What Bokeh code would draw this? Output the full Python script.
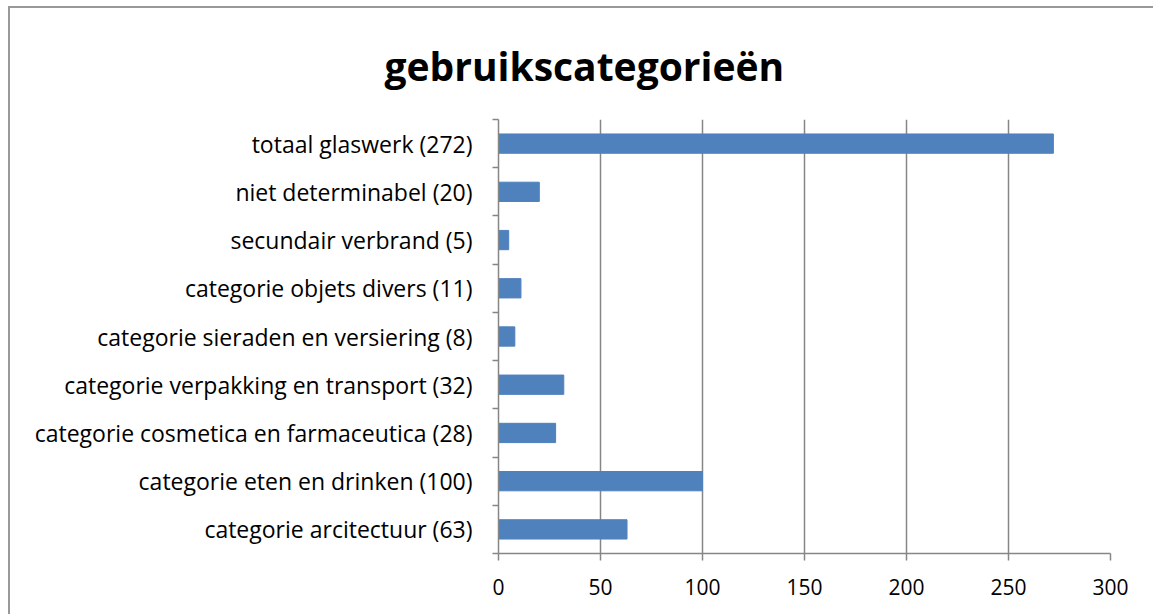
from bokeh.plotting import figure
from bokeh.models import FixedTicker, Range1d
from bokeh.embed import file_html
from bokeh.resources import INLINE

title_text = "gebruikscategorieën"
categories = [
    "categorie arcitectuur (63)",
    "categorie eten en drinken (100)",
    "categorie cosmetica en farmaceutica (28)",
    "categorie verpakking en transport (32)",
    "categorie sieraden en versiering (8)",
    "categorie objets divers (11)",
    "secundair verbrand (5)",
    "niet determinabel (20)",
    "totaal glaswerk (272)",
]
values = [63, 100, 28, 32, 8, 11, 5, 20, 272]
x_ticks = [0, 50, 100, 150, 200, 250, 300]

FONT = "Open Sans"
GREY = "#868686"
BLUE = "#4F81BD"

n = len(categories)
centers = [i + 0.5 for i in range(n)]
bounds = list(range(n + 1))

p = figure(width=1145, height=608, output_backend="svg", toolbar_location=None,
           x_range=Range1d(0, 300), y_range=Range1d(0, n),
           min_border_left=488, min_border_right=45, min_border_top=109, min_border_bottom=63,
           title=title_text)
p.styles = {"border-left": "2px solid #999", "border-top": "2px solid #999",
            "margin-left": "8px", "margin-top": "6px"}

p.hbar(y=centers, right=values, left=0, height=0.4, color=BLUE, line_color=BLUE)

p.title.align = "left"
p.title.offset = -114
p.title.standoff = 56
p.title.text_font = FONT
p.title.text_font_size = "39px"
p.title.text_font_style = "bold"
p.title.text_color = "black"

p.outline_line_color = None
p.background_fill_color = "white"
p.border_fill_color = "white"

# grid
p.xgrid.ticker = FixedTicker(ticks=x_ticks)
p.xgrid.grid_line_color = GREY
p.xgrid.grid_line_width = 1.5
p.ygrid.grid_line_color = None

# x axis
xa = p.xaxis[0]
xa.ticker = FixedTicker(ticks=x_ticks)
xa.axis_line_color = GREY
xa.axis_line_width = 1.5
xa.major_tick_line_color = GREY
xa.major_tick_line_width = 1.5
xa.major_tick_out = 7
xa.major_tick_in = 0
xa.minor_tick_line_color = None
xa.major_label_text_font = FONT
xa.major_label_text_font_size = "21px"
xa.major_label_text_color = "black"
xa.major_label_standoff = 18

# y axis
ya = p.yaxis[0]
ya.ticker = FixedTicker(ticks=centers, minor_ticks=bounds)
ya.major_label_overrides = {c: lab for c, lab in zip(centers, categories)}
ya.axis_line_color = GREY
ya.axis_line_width = 1.5
ya.major_tick_line_color = None
ya.major_tick_out = 0
ya.major_tick_in = 0
ya.minor_tick_line_color = GREY
ya.minor_tick_line_width = 1.5
ya.minor_tick_out = 6
ya.minor_tick_in = 0
ya.major_label_text_font = FONT
ya.major_label_text_font_size = "23px"
ya.major_label_text_color = "black"
ya.major_label_standoff = 20

open("out.html", "w").write(file_html(p, INLINE))
